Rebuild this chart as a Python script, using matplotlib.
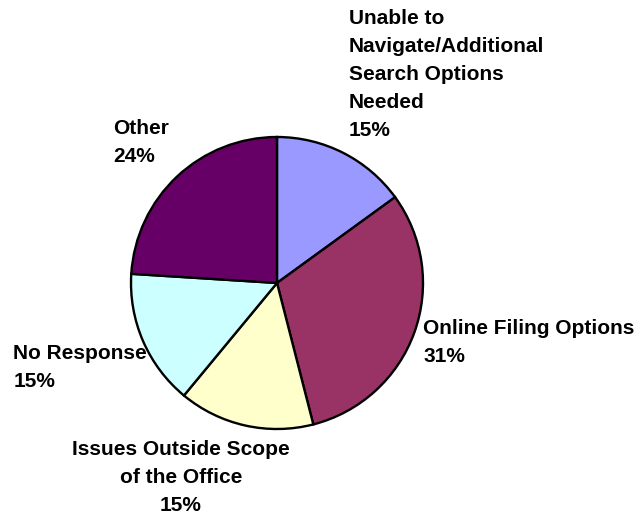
import matplotlib
matplotlib.use("Agg")
import matplotlib.pyplot as plt

# survey answers, percent of responses
categories = ["Unable to\nNavigate/Additional\nSearch Options\nNeeded",
              "Online Filing Options",
              "Issues Outside Scope\nof the Office",
              "No Response",
              "Other"]
values = [15, 31, 15, 15, 24]
colors = ["#9999FF", "#993366", "#FFFFCC", "#CCFFFF", "#660066"]

# where each label block sits (data units, pie radius = 1) and how it is aligned
label_pos = [(0.493, 1.878), (1.003, -0.250), (-0.659, -1.072),
             (-1.805, -0.418), (-1.121, 1.124)]
label_align = ["left", "left", "center", "left", "left"]

plt.rcParams["font.family"] = ["Liberation Sans", "DejaVu Sans"]

fig = plt.figure(figsize=(6.41, 5.16), dpi=100)
W, H = 641, 516
cx, cy, r = 277, 283, 146
ax = fig.add_axes([(cx - r) / W, (H - cy - r) / H, 2 * r / W, 2 * r / H])

ax.pie(values, colors=colors, startangle=90, counterclock=False,
       wedgeprops=dict(edgecolor="black", linewidth=1.7))
ax.set_xlim(-1, 1)
ax.set_ylim(-1, 1)
ax.set_aspect("equal")
ax.axis("off")

total = sum(values)
for name, v, (x, y), ha in zip(categories, values, label_pos, label_align):
    ax.text(x, y, "%s\n%d%%" % (name, round(100 * v / total)),
            ha=ha, va="top", multialignment=ha,
            fontsize=15, fontweight="bold", linespacing=1.6)

fig.savefig("out.png", dpi=100)
